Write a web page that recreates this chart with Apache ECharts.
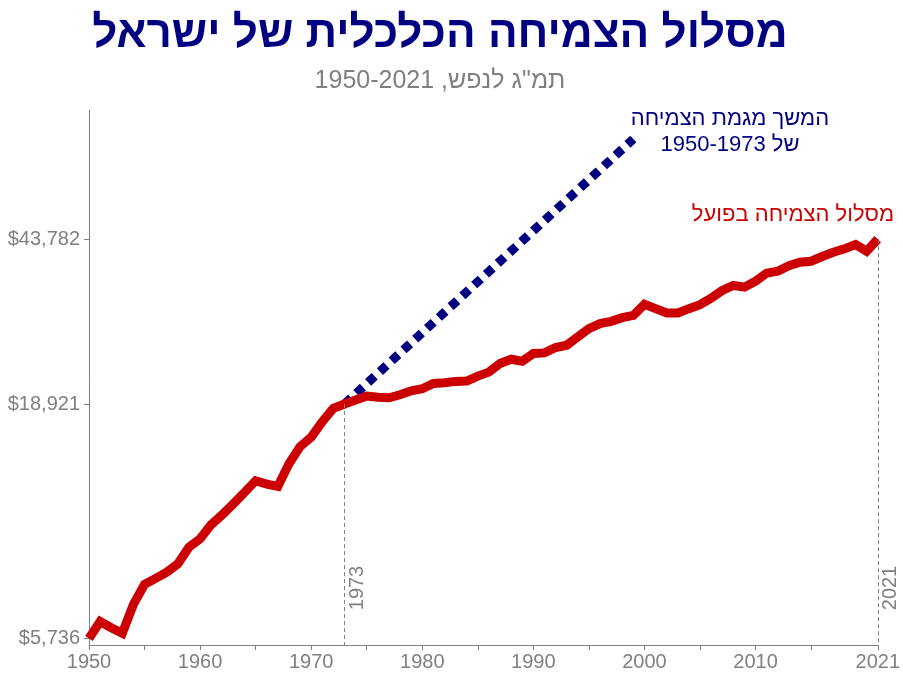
<!DOCTYPE html>
<html>
<head>
<meta charset="utf-8">
<script src="https://cdn.jsdelivr.net/npm/echarts@6/dist/echarts.min.js"></script>
<style>
  html, body { margin: 0; padding: 0; background: #fff; }
  #chart { width: 903px; height: 678px; }
</style>
</head>
<body>
<div id="chart"></div>
<script>
// תמ"ג לנפש (דולר), סולם לוגריתמי
const years = [
  1950, 1951, 1952, 1953, 1954, 1955, 1956, 1957, 1958, 1959,
  1960, 1961, 1962, 1963, 1964, 1965, 1966, 1967, 1968, 1969,
  1970, 1971, 1972, 1973, 1974, 1975, 1976, 1977, 1978, 1979,
  1980, 1981, 1982, 1983, 1984, 1985, 1986, 1987, 1988, 1989,
  1990, 1991, 1992, 1993, 1994, 1995, 1996, 1997, 1998, 1999,
  2000, 2001, 2002, 2003, 2004, 2005, 2006, 2007, 2008, 2009,
  2010, 2011, 2012, 2013, 2014, 2015, 2016, 2017, 2018, 2019,
  2020, 2021
]
const gdpPerCapita = [
  5736, 6255, 6060, 5894, 6825, 7559, 7792, 8044, 8393, 9131,
  9527, 10244, 10776, 11394, 12066, 12804, 12590, 12439, 13958, 15233,
  15981, 17296, 18513, 18921, 19309, 19705, 19576, 19536, 19835, 20242,
  20446, 21013, 21078, 21229, 21262, 21810, 22256, 23250, 23765, 23525,
  24465, 24544, 25228, 25525, 26618, 27776, 28487, 28820, 29371, 29713,
  31420, 30743, 30064, 30064, 30743, 31373, 32440, 33728, 34597, 34304,
  35364, 36824, 37199, 38234, 38936, 39134, 40082, 40966, 41681, 42595,
  41176, 43782
]
// המשך מגמת 1950-1973
const trendYears = [1973, 1999]
const trendValues = [18921, 72900]

const yTickValues = [5736, 18921, 43782]
const xTickValues = [1950, 1955, 1960, 1965, 1970, 1975, 1980, 1985, 1990, 1995, 2000, 2005, 2010, 2015, 2021]
const xLabelValues = [1950, 1960, 1970, 1980, 1990, 2000, 2010, 2021]
const markYears = [1973, 2021]
const markValues = [18921, 43782]

const yMin = 5551
const yMax = 84480
const FONT = "'Liberation Sans', Arial, sans-serif"
const GREY = '#808080'

const chart = echarts.init(document.getElementById('chart'))

const option = {
  animation: false,
  backgroundColor: '#fff',
  title: {
    text: 'מסלול הצמיחה הכלכלית של ישראל',
    subtext: 'תמ"ג לנפש, 1950-2021',
    left: 435,
    top: 8,
    textAlign: 'center',
    itemGap: 12,
    textStyle: { color: '#000080', fontSize: 44, fontWeight: 'bold', fontFamily: FONT },
    subtextStyle: { color: GREY, fontSize: 25, fontFamily: FONT }
  },
  grid: { left: 89, right: 25, top: 110, bottom: 33, containLabel: false },
  xAxis: {
    type: 'value',
    min: 1950,
    max: 2021,
    splitLine: { show: false },
    axisLine: { onZero: false, lineStyle: { color: GREY, width: 1 } },
    axisTick: { customValues: xTickValues, length: 5, lineStyle: { color: GREY } },
    axisLabel: {
      customValues: xLabelValues,
      color: GREY,
      fontSize: 20,
      fontFamily: FONT,
      margin: 7,
      formatter: v => String(v)
    }
  },
  yAxis: {
    type: 'log',
    logBase: 10,
    min: yMin,
    max: yMax,
    splitLine: { show: false },
    axisLine: { show: true, lineStyle: { color: GREY, width: 1 } },
    axisTick: { show: true, customValues: yTickValues, length: 5, lineStyle: { color: GREY } },
    axisLabel: {
      customValues: yTickValues,
      color: GREY,
      fontSize: 20,
      fontFamily: FONT,
      margin: 9,
      formatter: v => '$' + Math.round(v).toLocaleString('en-US')
    }
  },
  series: [
    {
      name: 'trend',
      type: 'line',
      data: trendYears.map((y, i) => [y, trendValues[i]]),
      symbol: 'none',
      z: 2,
      lineStyle: { color: '#000080', width: 9, type: [9, 7], cap: 'butt' }
    },
    {
      name: 'actual',
      type: 'line',
      data: years.map((y, i) => [y, gdpPerCapita[i]]),
      symbol: 'none',
      z: 3,
      lineStyle: { color: '#cc0000', width: 9, join: 'miter' },
      markLine: {
        silent: true,
        symbol: 'none',
        label: { show: false },
        lineStyle: { color: GREY, width: 1, type: [4, 3] },
        data: markYears.map((y, i) => [
          { coord: [y, markValues[i]] },
          { coord: [y, yMin] }
        ])
      }
    }
  ]
}
chart.setOption(option)

// תוויות טקסט ליד הקווים
const yearLabels = markYears.map(y => {
  const p = chart.convertToPixel({ gridIndex: 0 }, [y, 5736])
  return {
    type: 'text',
    x: p[0] + 13,
    y: 588,
    rotation: Math.PI / 2,
    style: {
      text: String(y),
      fill: GREY,
      font: '20px ' + FONT,
      align: 'center',
      verticalAlign: 'middle'
    }
  }
})

chart.setOption({
  graphic: [
    ...yearLabels,
    {
      type: 'text',
      x: 730,
      y: 132,
      style: {
        text: 'המשך מגמת הצמיחה\nשל 1950-1973',
        fill: '#000080',
        font: '22px ' + FONT,
        align: 'center',
        verticalAlign: 'middle',
        lineHeight: 26
      }
    },
    {
      type: 'text',
      x: 793,
      y: 215,
      style: {
        text: 'מסלול הצמיחה בפועל',
        fill: '#cc0000',
        font: '22px ' + FONT,
        align: 'center',
        verticalAlign: 'middle'
      }
    }
  ]
})
</script>
</body>
</html>
